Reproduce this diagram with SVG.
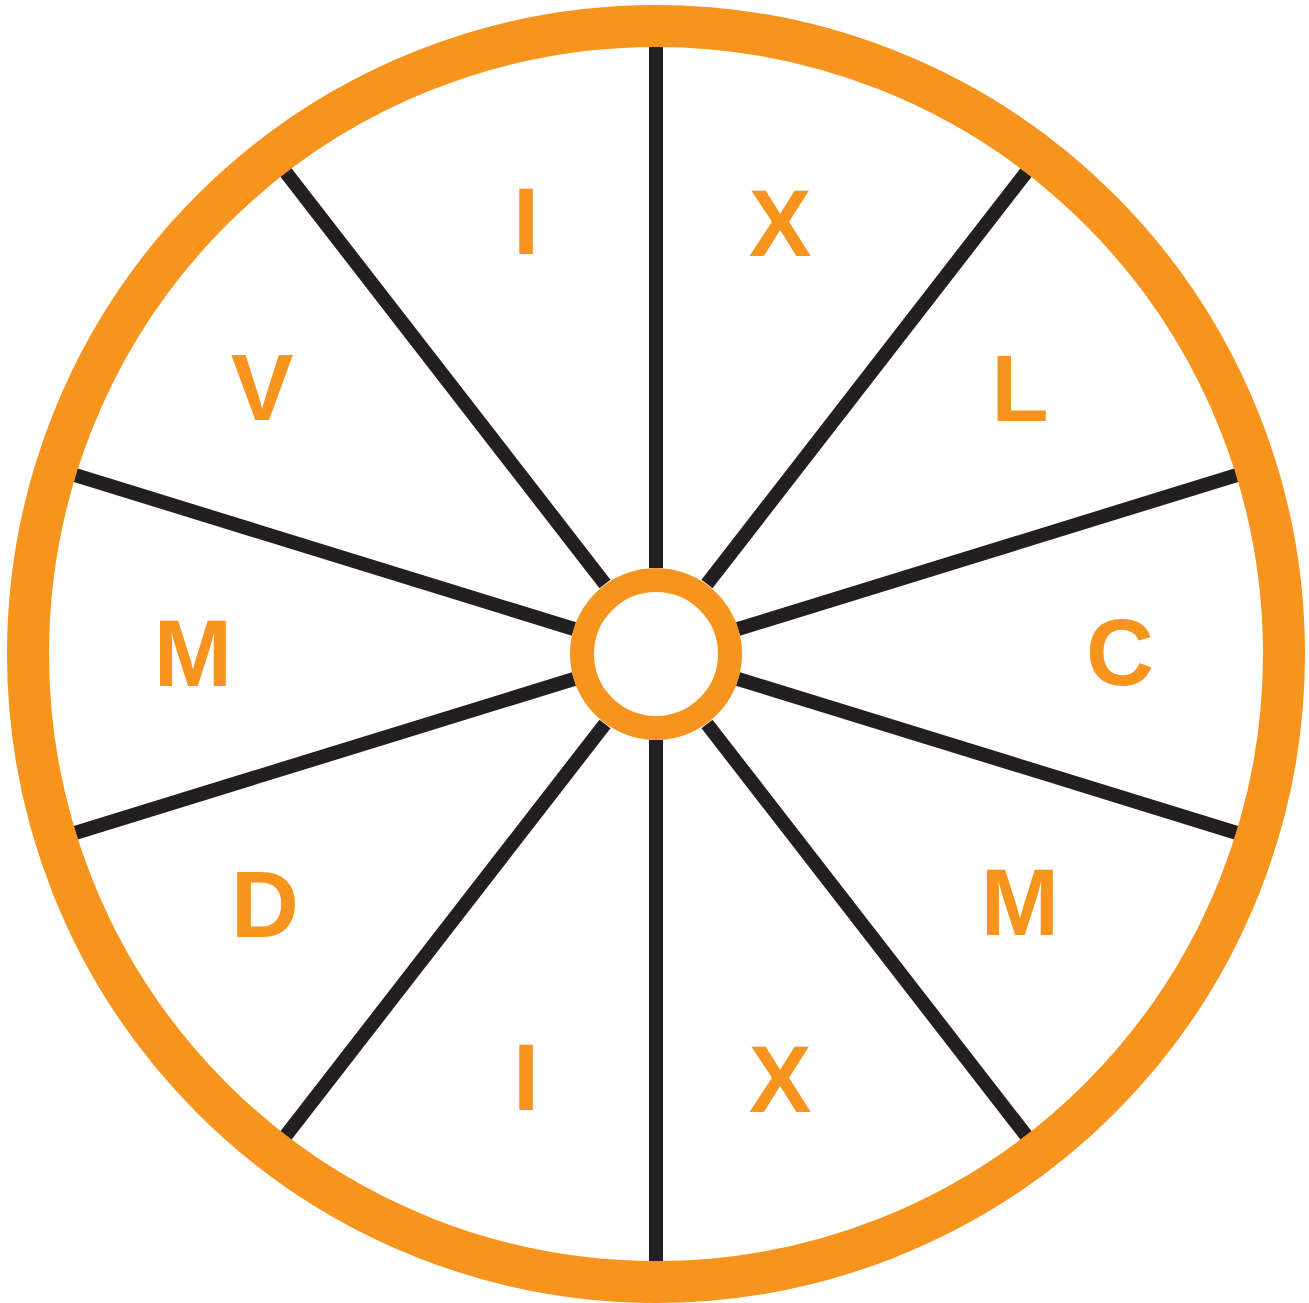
<svg xmlns="http://www.w3.org/2000/svg" width="1309" height="1303" viewBox="0 0 1309 1303">
<style>
.ring{fill:none;stroke:#f7941d}
.spoke{stroke:#231f20;stroke-width:14;stroke-linecap:butt}
.lbl{font-family:"Liberation Sans","DejaVu Sans",sans-serif;font-weight:bold;font-size:94px;fill:#f7941d;text-anchor:middle}
</style>
<rect width="1309" height="1303" fill="#fff"/>
<g id="connectors">
<line class="spoke" x1="656" y1="45" x2="656" y2="568"/>
<line class="spoke" x1="656" y1="740" x2="656" y2="1262"/>
<line class="spoke" x1="1028" y1="170" x2="707" y2="584"/>
<line class="spoke" x1="605" y1="724" x2="284" y2="1138"/>
<line class="spoke" x1="284" y1="170" x2="605" y2="584"/>
<line class="spoke" x1="707" y1="724" x2="1028" y2="1138"/>
<line class="spoke" x1="1237" y1="475" x2="738" y2="629"/>
<line class="spoke" x1="574" y1="679" x2="75" y2="833"/>
<line class="spoke" x1="75" y1="475" x2="574" y2="629"/>
<line class="spoke" x1="738" y1="679" x2="1237" y2="833"/>
</g>
<g id="rim"><circle class="ring" cx="656" cy="654" r="628" stroke-width="42"/></g>
<g id="hub"><circle class="ring" cx="656" cy="654" r="74" stroke-width="24" fill="#fff"/></g>
<g id="n1"><text class="lbl" x="526" y="254">I</text></g>
<g id="n2"><text class="lbl" x="780" y="256">X</text></g>
<g id="n3"><text class="lbl" x="1020" y="421">L</text></g>
<g id="n4"><text class="lbl" x="1120" y="685">C</text></g>
<g id="n5"><text class="lbl" x="1020" y="935">M</text></g>
<g id="n6"><text class="lbl" x="780" y="1112">X</text></g>
<g id="n7"><text class="lbl" x="526" y="1110">I</text></g>
<g id="n8"><text class="lbl" x="265" y="937">D</text></g>
<g id="n9"><text class="lbl" x="193" y="686">M</text></g>
<g id="n10"><text class="lbl" x="262" y="420">V</text></g>
</svg>
